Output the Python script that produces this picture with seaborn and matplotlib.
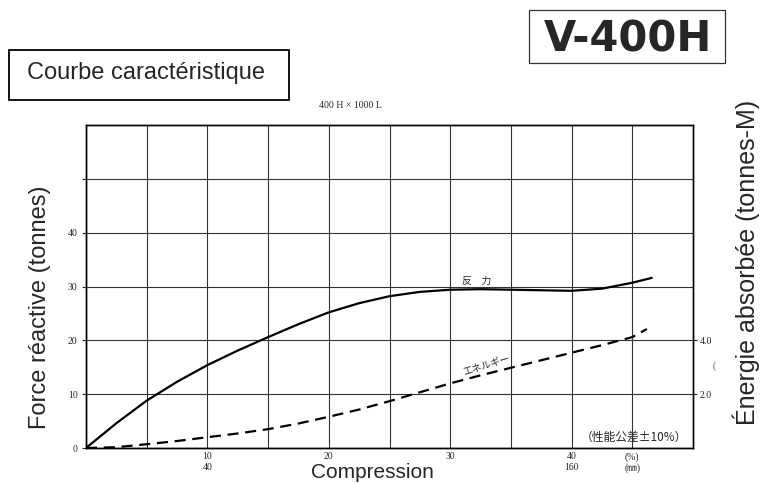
import matplotlib
matplotlib.use("Agg")
import matplotlib.pyplot as plt
import seaborn as sns
import pandas as pd
from matplotlib.patches import Rectangle

# ---- data ----
force_x = [0, 2.5, 5, 7.5, 10, 12.5, 15, 17.5, 20, 22.5, 25, 27.5, 30, 32.5, 35, 37.5, 40, 42.5, 45, 46.6]
force_t = [0, 4.6, 8.8, 12.3, 15.4, 18.1, 20.6, 23.0, 25.2, 26.9, 28.2, 29.0, 29.4, 29.5, 29.4, 29.3, 29.2, 29.6, 30.7, 31.6]
energy_x = [0, 2.5, 5, 7.5, 10, 12.5, 15, 17.5, 20, 22.5, 25, 27.5, 30, 32.5, 35, 37.5, 40, 42.5, 45, 46.2]
energy_tm = [0, 0.03, 0.14, 0.26, 0.40, 0.54, 0.70, 0.91, 1.16, 1.43, 1.74, 2.07, 2.40, 2.70, 2.98, 3.26, 3.54, 3.82, 4.12, 4.42]

y_grid = [0, 10, 20, 30, 40, 50]
y_tick_labels = ["0", "10", "20", "30", "40", ""]
x_grid = [0, 5, 10, 15, 20, 25, 30, 35, 40, 45]
x_tick_labels = ["", "", "10\n40", "", "20", "", "30", "", "40\n160", "(%)\n(㎜)"]
right_ticks = [2.0, 4.0]
right_tick_labels = ["2.0", "4.0"]

df_f = pd.DataFrame({"x": force_x, "y": force_t})
df_e = pd.DataFrame({"x": energy_x, "y": energy_tm})

sns.set_style("white")
plt.rcParams['font.family'] = ['Liberation Sans', 'Noto Sans CJK JP', 'DejaVu Sans']

fig = plt.figure(figsize=(7.62, 4.83), dpi=100)
ax = fig.add_axes([86/762, 1-448/483, (693-86)/762, (448-125)/483])

sns.lineplot(data=df_f, x="x", y="y", ax=ax, color="black", lw=1.6)
ax.set_xlim(0, 50)
ax.set_ylim(0, 60)
ax.set_xticks(x_grid)
ax.set_xticklabels(x_tick_labels, family=['Liberation Serif', 'Noto Sans CJK JP'], fontsize=7, linespacing=1.25)
ax.set_yticks(y_grid)
ax.set_yticklabels(y_tick_labels, family=['Liberation Serif'], fontsize=7)
ax.grid(True, color="#333333", lw=0.8)
ax.tick_params(axis="x", length=0, pad=3)
ax.tick_params(axis="y", length=3, direction="out", width=0.8, pad=3)
for s in ax.spines.values():
    s.set_color("black")
    s.set_linewidth(1.0)
ax.set_xlabel("")
ax.set_ylabel("")

ax2 = ax.twinx()
sns.lineplot(data=df_e, x="x", y="y", ax=ax2, color="black", lw=1.6, linestyle=(0, (5, 3)))
ax2.set_ylim(0, 12)
ax2.set_yticks(right_ticks)
ax2.set_yticklabels(right_tick_labels, family=['Liberation Serif'], fontsize=7)
ax2.tick_params(axis="y", length=3, direction="out", width=0.8, pad=2)
ax2.set_ylabel("")
ax2.grid(False)
for s in ax2.spines.values():
    s.set_color("black")
    s.set_linewidth(1.0)

# in-plot annotations
ax.text(31.0, 31.0, "反　力", fontsize=7, family=['Noto Sans CJK JP'], ha="left", va="center")
ax.text(33.0, 15.4, "エネルギー", fontsize=7, family=['Noto Sans CJK JP'], ha="center", va="center", rotation=17)
ax.text(45.1, 2.0, "（性能公差±10%）", fontsize=8.5, family=['Noto Sans CJK JP'], ha="center", va="center")

# axis labels as figure texts
fig.text(372/762, 1-473/483, "Compression", fontsize=15, ha="center", va="center")
fig.text(40/762, 1-307/483, "Force réactive (tonnes)", fontsize=17, rotation=90, ha="center", va="center")
fig.text(746/762, 1-262/483, "Énergie absorbée (tonnes-M)", fontsize=18, rotation=90, ha="center", va="center")

# figure texts
fig.text(350/762, 1-106/483, "400 H × 1000 L", fontsize=7, family=['Liberation Serif'], ha="center", va="center")
fig.text(714/762, 1-366/483, "(", fontsize=7, family=['Liberation Serif'], ha="center", va="center", color="#555555")

fig.patches.append(Rectangle((9/762, 1-100/483), 280/762, 50/483, transform=fig.transFigure,
                             fill=False, edgecolor="black", lw=1.3))
fig.text(146/762, 1-73/483, "Courbe caractéristique", fontsize=17, ha="center", va="center")

fig.patches.append(Rectangle((529/762, 1-63/483), 196/762, 53/483, transform=fig.transFigure,
                             fill=False, edgecolor="#333333", lw=0.9))
fig.text(628/762, 1-39/483, "V-400H", fontsize=30, fontweight="bold", family=['DejaVu Sans'],
         ha="center", va="center")

fig.savefig("out.png", dpi=100)
